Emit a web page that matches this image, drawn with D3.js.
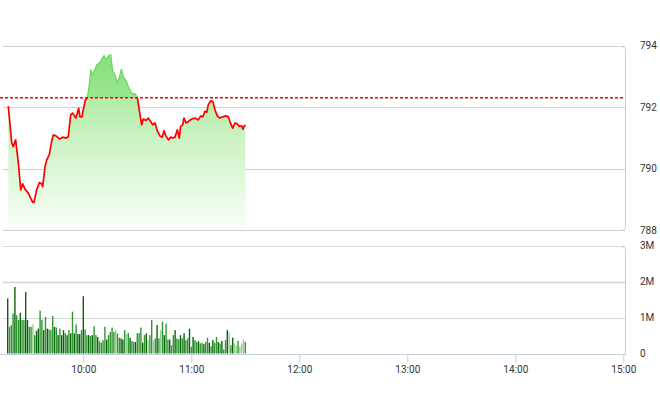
<!DOCTYPE html>
<html><head><meta charset="utf-8">
<script src="https://cdn.jsdelivr.net/npm/d3@7"></script>
<style>html,body{margin:0;padding:0;background:#fff;} svg{display:block;font-family:Roboto,"Noto Sans",sans-serif;}</style>
</head><body><svg id="chart" width="660" height="412"></svg>
<script>
const sessionStart = "09:15", sessionEnd = "15:00";
const xTickLabels = ["10:00","11:00","12:00","13:00","14:00","15:00"];
const priceTicks = [788,790,792,794];
const volumeTicks = [0,1,2,3]; // millions
const refPrice = 792.3;

const priceTimes = ["09:18:20","09:20:15","09:21:05","09:22:25","09:23:55","09:25:15","09:26:20","09:27:35","09:29:25","09:31:55",
"09:32:35","09:34:05","09:35:35","09:36:55","09:37:25","09:38:45","09:39:40","09:41:05","09:42:25","09:43:20",
"09:44:50","09:46:40","09:48:35","09:50:25","09:51:40","09:53:00","09:54:05","09:55:55","09:57:25","09:58:10",
"09:59:15","10:00:00","10:01:05","10:02:15","10:03:20","10:04:05","10:05:15","10:06:30","10:07:25","10:08:55",
"10:10:15","10:11:30","10:12:35","10:13:55","10:15:15","10:16:20","10:17:35","10:18:55","10:20:00","10:21:05",
"10:22:15","10:23:45","10:25:00","10:26:20","10:27:25","10:28:45","10:30:00","10:31:05","10:32:25","10:33:20",
"10:34:50","10:36:05","10:37:25","10:38:35","10:39:50","10:41:05","10:42:35","10:43:55","10:44:50","10:45:55",
"10:47:15","10:48:35","10:49:40","10:50:55","10:52:15","10:53:20","10:54:05","10:55:15","10:55:55","10:57:05",
"10:58:20","11:00:15","11:02:05","11:03:55","11:05:15","11:06:20","11:07:35","11:08:35","11:09:25","11:10:45",
"11:11:55","11:13:10","11:14:25","11:15:55","11:17:25","11:19:15","11:20:35","11:21:55","11:23:00","11:24:15",
"11:25:35","11:26:40","11:28:00","11:28:40","11:29:20","11:30:00"];
const priceValues = [792.03,790.83,790.71,790.93,790.18,789.30,789.50,789.33,789.20,788.90,
788.90,789.30,789.54,789.50,789.41,790.06,790.28,790.44,790.88,791.09,
791.06,790.96,791.02,790.99,791.04,791.75,791.80,791.64,791.96,791.68,
791.68,791.91,792.21,792.31,792.72,793.19,793.05,793.23,793.37,793.43,
793.56,793.67,793.54,793.65,793.70,793.16,793.05,792.78,792.94,793.23,
792.99,792.86,792.67,792.50,792.43,792.43,792.32,791.91,791.42,791.61,
791.56,791.64,791.53,791.42,791.48,791.23,791.06,791.02,791.23,791.06,
790.93,791.02,790.99,791.02,791.26,790.99,791.37,791.42,791.64,791.48,
791.53,791.61,791.64,791.58,791.71,791.68,791.86,791.83,792.07,792.20,
792.18,791.91,791.71,791.64,791.68,791.71,791.68,791.45,791.31,791.48,
791.45,791.37,791.39,791.28,791.37,791.42];

const volumeStart = "09:18"; // one bar per minute from here
const volumeValues = [ // millions
1.53,0.74,0.79,1.11,1.85,1.06,0.93,1.13,0.93,0.93,1.71,0.93,0.74,0.74,0.81,0.51,0.63,0.69,1.19,0.94,
0.65,1.02,0.69,0.67,0.65,1.04,0.74,0.72,0.51,0.69,0.51,0.65,0.57,0.51,0.65,0.56,1.16,0.56,0.81,0.54,
0.54,0.65,1.59,0.67,
0.51,0.51,0.48,0.51,0.76,0.51,0.46,0.34,0.30,0.37,0.74,0.39,0.51,0.60,0.72,0.60,0.65,0.56,0.44,0.42,
0.39,0.65,0.54,0.57,0.44,0.35,0.32,0.32,0.56,0.57,0.72,0.30,0.51,0.56,0.37,0.51,0.93,0.37,0.42,0.79,
0.42,0.65,0.88,0.51,0.83,
0.39,0.39,0.23,0.51,0.65,0.42,0.39,0.51,0.42,0.56,0.37,0.42,0.69,0.19,0.46,0.37,0.32,0.34,0.28,0.30,
0.26,0.32,0.44,0.30,0.20,0.37,0.30,0.46,0.32,0.28,0.35,0.11,0.37,0.65,0.60,0.23,0.44,0.28,0.23,0.35,
0.19,0.28,0.39,0.32];
const volumeShades = "dmmmdmmdmmddmmlmddmmdmdmmmdmdmddmdmdmdmddmdm" +
                     "mdmdmmdmmmmdmmmmlmmddmlmdmmdmmmdmdlmmlmdmlmdm" +
                     "mdmmdmmdmdmmdmdmmdmmdmmdmdmmdmdmmdlmdllmlllm";
const shadeColors = {d:"#0a640a", m:"#329632", l:"#94d094"};

const svg = d3.select("#chart");
const parseHMS = d3.timeParse("%H:%M:%S");
const parseHM = d3.timeParse("%H:%M");

const x = d3.scaleTime().domain([parseHM(sessionStart), parseHM(sessionEnd)]).range([2.3, 623.3]);
const yP = d3.scaleLinear().domain([788, 794]).range([230, 45.5]);
const yV = d3.scaleLinear().domain([0, 3]).range([353.5, 245.5]);

const left = 3, right = 625;
const crisp = v => Math.round(v) + 0.5;

const defs = svg.append("defs");
const refY = yP(refPrice);
defs.append("clipPath").attr("id","above").append("rect").attr("x",0).attr("y",0).attr("width",660).attr("height",refY);
defs.append("clipPath").attr("id","below").append("rect").attr("x",0).attr("y",refY).attr("width",660).attr("height",412-refY);
const off = (refY - yP(794)) / (yP(788) - yP(794));
const grad = defs.append("linearGradient").attr("id","areaGrad")
  .attr("gradientUnits","userSpaceOnUse").attr("x1",0).attr("x2",0).attr("y1",yP(794)).attr("y2",yP(788));
[[0,"#84de78"],[off,"#9ae690"],[off,"#b2eca5"],[0.5,"#cbf3c3"],[1,"#fafff9"]].forEach(([o,c])=>
  grad.append("stop").attr("offset",o).attr("stop-color",c));

// price panel gridlines
svg.append("g").selectAll("line").data(priceTicks).join("line")
  .attr("x1",left).attr("x2",right).attr("y1",d=>crisp(yP(d))).attr("y2",d=>crisp(yP(d)))
  .attr("stroke","#d0d0d0").attr("stroke-width",1);
// right border of price panel
const pt = crisp(yP(794)), pb = crisp(yP(788));
svg.append("path").attr("d",`M${right-4},${pt} Q${right+0.5},${pt} ${right+0.5},${pt+4} V${pb-4} Q${right+0.5},${pb} ${right-4},${pb}`)
  .attr("fill","none").attr("stroke","#c4cfdc");

// volume panel gridlines
svg.append("g").selectAll("line").data(volumeTicks.filter(d=>d>0)).join("line")
  .attr("x1",left).attr("x2",right).attr("y1",d=>crisp(yV(d))).attr("y2",d=>crisp(yV(d)))
  .attr("stroke",d=>d===3?"#d6dce4":"#d4d4d4").attr("stroke-width",d=>d===2?1.6:1);
const vt = crisp(yV(3)), vb = crisp(yV(0));
svg.append("path").attr("d",`M${right-4},${vt} Q${right+0.5},${vt} ${right+0.5},${vt+4} V${vb}`)
  .attr("fill","none").attr("stroke","#c4cfdc");
svg.append("line").attr("x1",0).attr("x2",right+0.5).attr("y1",vb).attr("y2",vb).attr("stroke","#c4cfdc");

// price data
const pts = priceTimes.map((t,i)=>({t:parseHMS(t), v:priceValues[i]}));
const area = d3.area().x(d=>x(d.t)).y0(yP(788)).y1(d=>yP(d.v));
const line = d3.line().x(d=>x(d.t)).y(d=>yP(d.v));
svg.append("path").datum(pts).attr("d",area).attr("fill","url(#areaGrad)");
svg.append("path").datum(pts).attr("d",line).attr("fill","none").attr("stroke","#6cd45e")
  .attr("stroke-width",1.2).attr("clip-path","url(#above)");
svg.append("path").datum(pts).attr("d",line).attr("fill","none").attr("stroke","#ff0000")
  .attr("stroke-width",1.7).attr("stroke-linejoin","round").attr("clip-path","url(#below)");

// reference line
svg.append("line").attr("x1",0).attr("x2",right).attr("y1",refY).attr("y2",refY)
  .attr("stroke","#ff0000").attr("stroke-width",1.6).attr("stroke-dasharray","3,2");

// volume bars
const t0 = parseHM(volumeStart);
const bars = volumeValues.map((v,i)=>({t:d3.timeMinute.offset(t0,i), v, s:volumeShades[i]||"m"}));
svg.append("g").selectAll("rect").data(bars).join("rect")
  .attr("x",d=>x(d.t)-0.7).attr("width",1.4)
  .attr("y",d=>yV(d.v)).attr("height",d=>yV(0)-yV(d.v))
  .attr("fill",d=>shadeColors[d.s]);

// right axes
const fmtV = d => d===0 ? "0" : d + "M";
const gP = svg.append("g").attr("transform",`translate(${right},0)`)
  .call(d3.axisRight(yP).tickValues(priceTicks).tickSize(0).tickPadding(15).tickFormat(d3.format("d")));
const gV = svg.append("g").attr("transform",`translate(${right},0)`)
  .call(d3.axisRight(yV).tickValues(volumeTicks).tickSize(0).tickPadding(15).tickFormat(fmtV));
[gP,gV].forEach(g=>{g.select(".domain").remove();
  g.selectAll("text").attr("fill","#333").attr("font-size","10px").attr("font-family","Roboto, sans-serif");});

// x axis
const gX = svg.append("g").attr("transform",`translate(0,${vb})`)
  .call(d3.axisBottom(x).tickValues(xTickLabels.map(parseHM)).tickSize(8).tickPadding(3).tickFormat(d3.timeFormat("%H:%M")));
gX.select(".domain").remove();
gX.selectAll(".tick line").attr("stroke","#c4cfdc");
gX.selectAll("text").attr("fill","#333").attr("font-size","10px").attr("font-family","Roboto, sans-serif");
</script></body></html>
